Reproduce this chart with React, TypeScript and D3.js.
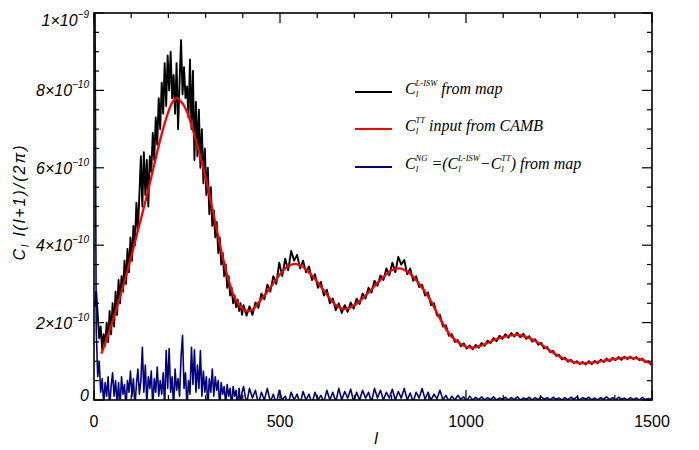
import React from 'react';
import * as d3 from 'd3';

const W = 699;
const H = 450;
const PLOT = { left: 94, right: 652, top: 13, bottom: 400 };
const UNIT = 1e-10;

// CAMB input spectrum (units of 1e-10)
const redL = [20,40,60,80,100,120,140,160,180,200,210,222,235,250,262,280,300,320,340,360,380,400,410,425,445,470,500,520,540,560,590,620,650,675,700,730,770,800,820,845,870,900,930,960,990,1015,1045,1075,1110,1140,1170,1200,1230,1260,1290,1315,1345,1380,1420,1445,1470,1500];
const redV = [1.2,1.75,2.35,3.0,3.7,4.45,5.2,6.0,6.8,7.45,7.68,7.8,7.7,7.45,7.1,6.5,5.75,4.85,3.95,3.15,2.6,2.35,2.3,2.33,2.55,2.85,3.25,3.45,3.52,3.45,3.17,2.8,2.45,2.35,2.45,2.7,3.1,3.35,3.4,3.3,3.05,2.65,2.1,1.65,1.42,1.35,1.42,1.55,1.65,1.68,1.6,1.45,1.25,1.08,0.98,0.95,0.97,1.03,1.08,1.09,1.05,0.93];

// multipoles of the map spectra
const mapL = [...d3.range(2, 400, 4), ...d3.range(402, 1500, 8)];

// L-ISW spectrum from map (units of 1e-10)
const blackV = [
  2.4, 2.8, 2.2, 1.6, 1.9, 1.3, 1.7, 1.4, 2.0, 1.5,
  2.3, 1.7, 2.5, 1.9, 2.8, 2.2, 3.1, 2.5, 3.2, 2.8,
  3.6, 3.0, 3.9, 3.3, 4.2, 3.6, 4.5, 4.0, 5.1, 4.4,
  5.3, 6.3, 5.0, 6.4, 5.3, 6.2, 5.0, 6.3, 5.9, 6.9,
  6.2, 7.3, 6.6, 7.8, 7.0, 8.2, 7.4, 8.7, 7.6, 8.9,
  8.0, 9.0, 7.8, 8.4, 7.4, 8.7, 7.0, 8.2, 9.3, 7.9,
  8.6, 7.8, 8.1, 7.3, 8.8, 7.0, 8.5, 6.2, 7.7, 6.3,
  7.5, 6.0, 7.0, 5.6, 6.5, 5.3, 6.0, 4.8, 5.5, 4.5,
  4.9, 4.2, 4.6, 3.8, 4.2, 3.5, 3.8, 3.2, 3.5, 2.9,
  3.2, 2.7, 2.9, 2.5, 2.7, 2.4, 2.6, 2.3, 2.5, 2.2,
  2.45, 2.18, 2.42, 2.2, 2.52, 2.38, 2.75, 2.6, 2.98, 2.8,
  3.2, 3.0, 3.55, 3.2, 3.65, 3.35, 3.85, 3.6, 3.75, 3.4,
  3.6, 3.3, 3.45, 3.1, 3.25, 2.9, 3.05, 2.7, 2.85, 2.5,
  2.62, 2.32, 2.5, 2.25, 2.45, 2.28, 2.52, 2.36, 2.62, 2.48,
  2.75, 2.62, 2.9, 2.78, 3.08, 2.95, 3.22, 3.1, 3.4, 3.22,
  3.55, 3.3, 3.7, 3.5, 3.62, 3.25, 3.4, 3.08, 3.2, 2.92,
  2.98, 2.7, 2.78, 2.45, 2.5, 2.18, 2.2, 1.9, 1.93, 1.66,
  1.7, 1.5, 1.55, 1.39, 1.46, 1.33, 1.41, 1.31, 1.42, 1.35,
  1.47, 1.4, 1.53, 1.47, 1.6, 1.52, 1.66, 1.58, 1.7, 1.61,
  1.73, 1.64, 1.74, 1.62, 1.71, 1.58, 1.65, 1.51, 1.57, 1.43,
  1.48, 1.33, 1.37, 1.24, 1.27, 1.14, 1.17, 1.05, 1.1, 0.99,
  1.04, 0.95, 1.0, 0.93, 0.98, 0.92, 1.0, 0.93, 1.01, 0.95,
  1.04, 0.98, 1.07, 1.0, 1.09, 1.03, 1.11, 1.04, 1.12, 1.06,
  1.12, 1.06, 1.11, 1.03, 1.07, 0.98, 1.0, 0.91,
];

// NG difference spectrum from map (units of 1e-10)
const blueV = [
  12, 1.8, 0.6, 1.0, 0.2, 0.55, -0.1, 0.45, 0.1, 0.6,
  -0.2, 0.35, 0.7, 0.1, 0.5, -0.1, 0.45, -0.2, 0.6, 0.15,
  0.4, -0.2, 0.5, 0.2, 0.75, 0.1, 0.55, -0.2, 0.4, 0.8,
  0.15, 0.5, 1.36, 0.2, 0.9, -0.1, 0.6, 0.3, 0.75, -0.2,
  0.55, 0.2, 0.85, 0.1, 0.5, 0.15, 0.7, -0.2, 1.28, 0.3,
  1.33, 0.2, 0.6, -0.2, 0.8, 0.25, 0.55, 0.1, 1.1, 1.67,
  0.3, 0.7, -0.2, 0.5, 0.15, 1.36, 0.4, 1.3, 0.2, 0.9,
  0.3, 1.28, 0.1, 0.75, 0.2, 0.6, -0.2, 0.55, 0.2, 0.8,
  0.1, 0.6, 0.25, 0.5, -0.2, 0.45, 0.15, 0.35, -0.1, 0.4,
  0.1, 0.3, -0.2, 0.35, 0.1, 0.25, -0.2, 0.3, -0.1, 0.2,
  0.35, -0.1, 0.3, 0.05, 0.25, -0.1, 0.2, 0.0, 0.3, -0.05,
  0.15, -0.1, 0.25, 0.0, 0.1, -0.1, 0.2, 0.0, 0.15, -0.1,
  0.22, 0.0, 0.15, -0.1, 0.2, 0.0, 0.12, -0.05, 0.25, 0.0,
  0.2, -0.05, 0.3, 0.0, 0.22, 0.05, 0.28, -0.05, 0.2, 0.0,
  0.25, 0.05, 0.2, -0.05, 0.3, 0.05, 0.25, 0.0, 0.2, 0.05,
  0.28, 0.0, 0.22, 0.05, 0.3, 0.0, 0.18, -0.05, 0.2, 0.05,
  0.3, 0.02, 0.2, 0.0, 0.15, 0.03, 0.25, 0.0, 0.12, -0.03,
  0.1, 0.0, 0.12, 0.02, 0.08, -0.02, 0.1, 0.0, 0.07, 0.01,
  0.08, 0.0, 0.06, 0.01, 0.08, 0.0, 0.05, 0.02, 0.07, 0.0,
  0.06, 0.01, 0.08, 0.0, 0.05, 0.02, 0.07, 0.0, 0.06, 0.01,
  0.08, 0.02, 0.06, 0.0, 0.07, 0.02, 0.05, 0.0, 0.06, 0.01,
  0.07, 0.02, 0.08, 0.0, 0.06, 0.02, 0.07, 0.01, 0.05, 0.0,
  0.06, 0.02, 0.08, 0.01, 0.06, 0.0, 0.07, 0.02, 0.05, 0.0,
  0.06, 0.01, 0.05, 0.0, 0.07, 0.01, 0.04, 0.02,
];

const xMajor = [0, 500, 1000, 1500];
const xMinor = d3.range(0, 1501, 100);
const xTickLabels = ['0', '500', '1000', '1500'];
const yMajor = [0, 2e-10, 4e-10, 6e-10, 8e-10, 1e-9];
const yMinor = d3.range(0, 21).map((i) => i * 0.5e-10);
const yTickMant = ['0', '2×10', '4×10', '6×10', '8×10', '1×10'];
const yTickExp = ['', '−10', '−10', '−10', '−10', '−9'];

const COLORS = { map: '#000000', camb: '#ff0000', ng: '#000080' };

const x = d3.scaleLinear().domain([0, 1500]).range([PLOT.left, PLOT.right]);
const y = d3.scaleLinear().domain([0, 1e-9]).range([PLOT.bottom, PLOT.top]);

type Pt = [number, number];
const redPts: Pt[] = redL.map((l, i) => [l, redV[i] * UNIT]);
const blackPts: Pt[] = mapL.map((l, i) => [l, blackV[i] * UNIT]);
const bluePts: Pt[] = mapL.map((l, i) => [l, blueV[i] * UNIT]);

const lineRaw = d3.line<Pt>().x((d) => x(d[0])).y((d) => y(d[1]));
const lineSmooth = d3
  .line<Pt>()
  .x((d) => x(d[0]))
  .y((d) => y(d[1]))
  .curve(d3.curveCatmullRom.alpha(0.5));

const LFONT = '"Liberation Serif", "Times New Roman", serif';
const SFONT = '"Liberation Sans", Arial, sans-serif';

function cSym(sup: string, k: string) {
  return [
    <tspan key={k + 'c'}>C</tspan>,
    <tspan key={k + 's'} fontSize={9} dy={3}>l</tspan>,
    <tspan key={k + 'p'} fontSize={8.5} dx={-2.6} dy={-11}>{sup}</tspan>,
  ];
}

export default function App() {
  const legendY = [92, 129, 167];
  const legendColors = [COLORS.map, COLORS.camb, COLORS.ng];
  return (
    <svg
      width={W}
      height={H}
      style={{ position: 'absolute', left: 0, top: 0, background: '#fff' }}
    >
      <defs>
        <clipPath id="plotclip">
          <rect
            x={PLOT.left}
            y={PLOT.top}
            width={PLOT.right - PLOT.left}
            height={PLOT.bottom - PLOT.top}
          />
        </clipPath>
      </defs>
      <rect width={W} height={H} fill="#fff" />
      <g clipPath="url(#plotclip)" fill="none" strokeLinejoin="round">
        <path d={lineRaw(blackPts) || ''} stroke={COLORS.map} strokeWidth={1.9} />
        <path d={lineSmooth(redPts) || ''} stroke={COLORS.camb} strokeWidth={2.3} />
        <path d={lineRaw(bluePts) || ''} stroke={COLORS.ng} strokeWidth={1.6} />
      </g>

      {/* frame */}
      <rect
        x={PLOT.left}
        y={PLOT.top}
        width={PLOT.right - PLOT.left}
        height={PLOT.bottom - PLOT.top}
        fill="none"
        stroke="#000"
        strokeWidth={1.6}
      />
      {/* ticks */}
      <g stroke="#000" strokeWidth={1.2}>
        {xMinor.map((v) => {
          const len = xMajor.includes(v) ? 10 : 5;
          return (
            <g key={'xt' + v}>
              <line x1={x(v)} x2={x(v)} y1={PLOT.bottom} y2={PLOT.bottom - len} />
              <line x1={x(v)} x2={x(v)} y1={PLOT.top} y2={PLOT.top + len} />
            </g>
          );
        })}
        {yMinor.map((v, i) => {
          const len = i % 4 === 0 ? 10 : 5;
          return (
            <g key={'yt' + i}>
              <line x1={PLOT.left} x2={PLOT.left + len} y1={y(v)} y2={y(v)} />
              <line x1={PLOT.right} x2={PLOT.right - len} y1={y(v)} y2={y(v)} />
            </g>
          );
        })}
      </g>
      {/* x tick labels */}
      <g fontFamily={SFONT} fontSize={16} textAnchor="middle" fill="#000">
        {xMajor.map((v, i) => (
          <text key={'xl' + v} x={x(v)} y={427}>
            {xTickLabels[i]}
          </text>
        ))}
      </g>
      {/* y tick labels */}
      <g fontFamily={SFONT} fontSize={16} fontStyle="italic" textAnchor="end" fill="#000">
        {yMajor.map((v, i) => {
          const cy = Math.min(Math.max(y(v), 20), 395);
          return (
            <text key={'yl' + i} x={89} y={cy + 6}>
              <tspan>{yTickMant[i]}</tspan>
              {yTickExp[i] ? (
                <tspan fontSize={10} dy={-8}>
                  {yTickExp[i]}
                </tspan>
              ) : null}
            </text>
          );
        })}
      </g>
      {/* axis titles */}
      <text
        x={376}
        y={444}
        fontFamily={SFONT}
        fontStyle="italic"
        fontSize={16}
        textAnchor="middle"
      >
        l
      </text>
      <text
        transform="translate(25,202) rotate(-90)"
        fontFamily={SFONT}
        fontStyle="italic"
        fontSize={16}
        textAnchor="middle"
        letterSpacing={2}
      >
        <tspan>C</tspan>
        <tspan fontSize={10} dy={4}>l</tspan>
        <tspan dy={-4}>{'  l(l+1)/(2π)'}</tspan>
      </text>

      {/* legend */}
      {legendY.map((ly, i) => (
        <line
          key={'lg' + i}
          x1={355}
          x2={392}
          y1={ly}
          y2={ly}
          stroke={legendColors[i]}
          strokeWidth={2.2}
        />
      ))}
      <g fontFamily={LFONT} fontStyle="italic" fontSize={16} fill="#000">
        <text x={405} y={legendY[0] + 2}>
          {cSym('L-ISW', 'a')}
          <tspan dy={8}>{' from map'}</tspan>
        </text>
        <text x={405} y={legendY[1] + 2}>
          {cSym('TT', 'b')}
          <tspan dy={8}>{' input from CAMB'}</tspan>
        </text>
        <text x={405} y={legendY[2] + 2}>
          {cSym('NG', 'c')}
          <tspan dy={8}>{' =('}</tspan>
          {cSym('L-ISW', 'd')}
          <tspan dy={8}>{'−'}</tspan>
          {cSym('TT', 'e')}
          <tspan dy={8}>{') from map'}</tspan>
        </text>
      </g>
    </svg>
  );
}
